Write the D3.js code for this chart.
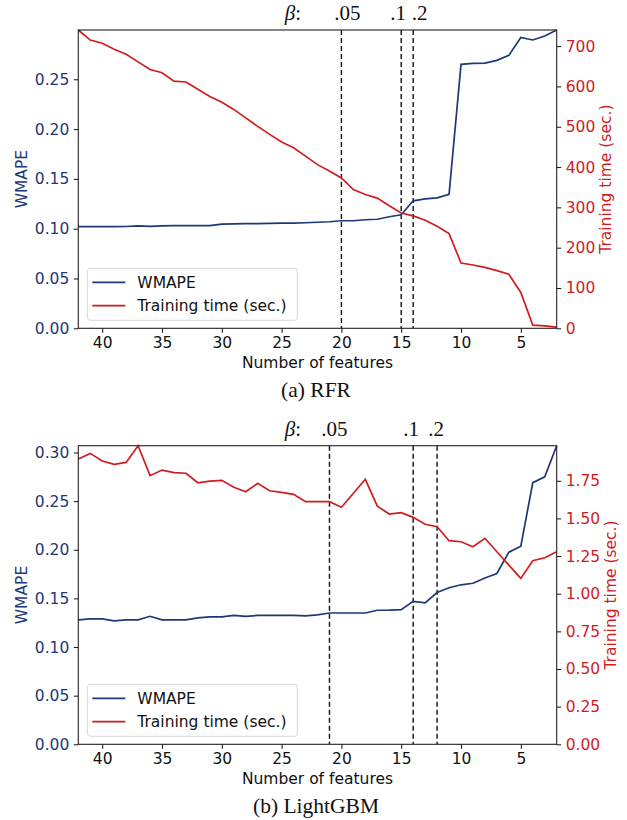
<!DOCTYPE html>
<html>
<head>
<meta charset="utf-8">
<script src="https://cdn.jsdelivr.net/npm/d3@7"></script>
<style>
  body { margin: 0; background: #fff; }
  text { font-family: "DejaVu Sans", sans-serif; }
</style>
</head>
<body>
<script>
// Number of features (x axis runs from 42 down to 2)
var features = [42, 41, 40, 39, 38, 37, 36, 35, 34, 33, 32, 31, 30, 29, 28, 27, 26, 25, 24, 23, 22,
  21, 20, 19, 18, 17, 16, 15, 14, 13, 12, 11, 10, 9, 8, 7, 6, 5, 4, 3, 2];

// (a) RFR
var rfrWmape = [0.102, 0.102, 0.102, 0.102, 0.1022, 0.1028, 0.1024, 0.1028, 0.1030, 0.1031, 0.1032,
  0.1030, 0.1045, 0.1048, 0.1050, 0.1050, 0.1053, 0.1055, 0.1055, 0.1060, 0.1065, 0.1070, 0.1080,
  0.1080, 0.1090, 0.1095, 0.1120, 0.1140, 0.1280, 0.1300, 0.1310, 0.1345, 0.2650, 0.2660, 0.2662,
  0.2690, 0.2740, 0.2920, 0.2895, 0.2935, 0.2995];
var rfrTime = [740, 715, 707, 692, 680, 661, 642, 634, 613, 611, 593, 575, 561, 543, 522, 501, 481,
  462, 448, 427, 406, 390, 373, 344, 332, 323, 304, 286, 279, 268, 253, 235, 162, 157, 151, 143,
  134, 89, 8, 6, 3];
var rfrCutoffs = [20, 15, 14];

// (b) LightGBM
var lgbWmape = [0.128, 0.129, 0.129, 0.127, 0.128, 0.128, 0.1316, 0.128, 0.128, 0.128, 0.130, 0.131,
  0.131, 0.1325, 0.1315, 0.1325, 0.1325, 0.1325, 0.1325, 0.132, 0.133, 0.135, 0.135, 0.135, 0.135,
  0.1378, 0.138, 0.1385, 0.147, 0.1454, 0.156, 0.161, 0.164, 0.1656, 0.171, 0.1756, 0.1975, 0.2037,
  0.269, 0.275, 0.307];
var lgbTime = [1.894, 1.932, 1.881, 1.859, 1.872, 1.983, 1.784, 1.821, 1.804, 1.800, 1.737, 1.748,
  1.753, 1.707, 1.677, 1.733, 1.684, 1.673, 1.660, 1.611, 1.611, 1.611, 1.574, 1.667, 1.760, 1.582,
  1.529, 1.538, 1.507, 1.461, 1.445, 1.352, 1.345, 1.312, 1.368, 1.279, 1.190, 1.102, 1.219, 1.239,
  1.279];
var lgbCutoffs = [21, 14, 12];

var betaLabels = [".05", ".1", ".2"];
var seriesNames = ["WMAPE", "Training time (sec.)"];

var blue = "#1c3879";
var red = "#d01c1f";

var svgWidth = 627;
var svgHeight = 820;

var svg = d3.select("body")
  .append("svg")
  .attr("width", svgWidth)
  .attr("height", svgHeight);

// Draw one panel with two y axes
function drawPanel(p) {
  var left = 78.3, right = 556.7;
  var top = p.top, bottom = p.bottom;

  var x = d3.scaleLinear()
    .domain([d3.max(features), d3.min(features)])
    .range([left, right]);
  var yL = d3.scaleLinear()
    .domain([0, d3.max(p.wmape)])
    .range([bottom, top]);
  var yR = d3.scaleLinear()
    .domain([0, d3.max(p.time)])
    .range([bottom, top]);

  var g = svg.append("g");

  // x axis
  var xAxis = g.append("g")
    .attr("transform", `translate(0,${bottom})`)
    .call(d3.axisBottom(x).tickValues([40, 35, 30, 25, 20, 15, 10, 5]).tickSize(4.5).tickPadding(4));
  xAxis.selectAll("text").attr("font-size", 15.5).attr("fill", "#111");

  // left axis
  var lAxis = g.append("g")
    .attr("transform", `translate(${left},0)`)
    .call(d3.axisLeft(yL).tickValues(p.leftTicks).tickFormat(d3.format(".2f")).tickSize(4.5).tickPadding(4.5));
  lAxis.selectAll("text").attr("font-size", 15.5).attr("fill", blue);

  // right axis
  var rAxis = g.append("g")
    .attr("transform", `translate(${right},0)`)
    .call(d3.axisRight(yR).tickValues(p.rightTicks).tickFormat(p.rightFormat).tickSize(4.5).tickPadding(4.5));
  rAxis.selectAll("text").attr("font-size", 15.5).attr("fill", red);

  g.selectAll(".domain").remove();
  g.selectAll(".tick line").attr("stroke", "#111").attr("stroke-width", 1);

  // cutoff lines for beta
  g.selectAll(".cut")
    .data(p.cutoffs)
    .enter()
    .append("line")
    .attr("x1", d => x(d))
    .attr("x2", d => x(d))
    .attr("y1", top)
    .attr("y2", bottom)
    .attr("stroke", "#111")
    .attr("stroke-width", 1.4)
    .attr("stroke-dasharray", "5,3");

  g.selectAll(".betaLabel")
    .data(p.cutoffs)
    .enter()
    .append("text")
    .attr("x", (d, i) => x(d) + p.labelShift[i])
    .attr("y", top - 10)
    .attr("text-anchor", "middle")
    .style("font-family", "'Liberation Serif', serif")
    .attr("font-size", 21)
    .attr("fill", "#111")
    .text((d, i) => betaLabels[i]);

  g.append("text")
    .attr("x", 293)
    .attr("y", top - 10)
    .attr("text-anchor", "middle")
    .style("font-family", "'Liberation Serif', serif")
    .attr("font-size", 21)
    .attr("fill", "#111")
    .html('<tspan font-style="italic">β</tspan>:');

  var lineL = d3.line()
    .x((d, i) => x(features[i]))
    .y(d => yL(d));
  var lineR = d3.line()
    .x((d, i) => x(features[i]))
    .y(d => yR(d));

  g.append("path")
    .datum(p.wmape)
    .attr("d", lineL)
    .attr("fill", "none")
    .attr("stroke", blue)
    .attr("stroke-width", 1.7);

  g.append("path")
    .datum(p.time)
    .attr("d", lineR)
    .attr("fill", "none")
    .attr("stroke", red)
    .attr("stroke-width", 1.7);

  // frame
  g.append("rect")
    .attr("x", left)
    .attr("y", top)
    .attr("width", right - left)
    .attr("height", bottom - top)
    .attr("fill", "none")
    .attr("stroke", "#222")
    .attr("stroke-width", 1.1);

  // legend
  var lg = g.append("g")
    .attr("transform", `translate(${left + 9},${bottom - 60})`);
  lg.append("rect")
    .attr("width", 210)
    .attr("height", 52)
    .attr("rx", 3)
    .attr("fill", "#fff")
    .attr("fill-opacity", 0.85)
    .attr("stroke", "#d8d8d8");
  lg.selectAll(".item")
    .data(seriesNames)
    .enter()
    .append("line")
    .attr("x1", 5)
    .attr("x2", 38)
    .attr("y1", (d, i) => 14 + i * 23.4)
    .attr("y2", (d, i) => 14 + i * 23.4)
    .attr("stroke", (d, i) => i === 0 ? blue : red)
    .attr("stroke-width", 1.7);
  lg.selectAll(".itemText")
    .data(seriesNames)
    .enter()
    .append("text")
    .attr("x", 50)
    .attr("y", (d, i) => 19.5 + i * 23.4)
    .attr("font-size", 15.5)
    .attr("fill", "#111")
    .text(d => d);

  // axis titles
  g.append("text")
    .attr("x", (left + right) / 2)
    .attr("y", bottom + 40)
    .attr("text-anchor", "middle")
    .attr("font-size", 15.5)
    .attr("fill", "#111")
    .text("Number of features");

  g.append("text")
    .attr("transform", `translate(27,${(top + bottom) / 2}) rotate(-90)`)
    .attr("text-anchor", "middle")
    .attr("font-size", 15.5)
    .attr("fill", blue)
    .text("WMAPE");

  g.append("text")
    .attr("transform", `translate(${p.rightLabelX},${(top + bottom) / 2}) rotate(-90)`)
    .attr("text-anchor", "middle")
    .attr("font-size", 15.5)
    .attr("fill", red)
    .text("Training time (sec.)");

  g.append("text")
    .attr("x", 316)
    .attr("y", bottom + 69)
    .attr("text-anchor", "middle")
    .style("font-family", "'Liberation Serif', serif")
    .attr("font-size", 21.5)
    .attr("fill", "#111")
    .text(p.title);
}

drawPanel({
  top: 30, bottom: 328.3,
  wmape: rfrWmape, time: rfrTime, cutoffs: rfrCutoffs,
  labelShift: [6, -3, 6.5],
  leftTicks: [0, 0.05, 0.1, 0.15, 0.2, 0.25],
  rightTicks: [0, 100, 200, 300, 400, 500, 600, 700],
  rightFormat: d3.format("d"),
  rightLabelX: 611,
  title: "(a) RFR"
});

drawPanel({
  top: 445.7, bottom: 744.3,
  wmape: lgbWmape, time: lgbTime, cutoffs: lgbCutoffs,
  labelShift: [5, -2, -1],
  leftTicks: [0, 0.05, 0.1, 0.15, 0.2, 0.25, 0.3],
  rightTicks: [0, 0.25, 0.5, 0.75, 1, 1.25, 1.5, 1.75],
  rightFormat: d3.format(".2f"),
  rightLabelX: 616,
  title: "(b) LightGBM"
});
</script>
</body>
</html>
